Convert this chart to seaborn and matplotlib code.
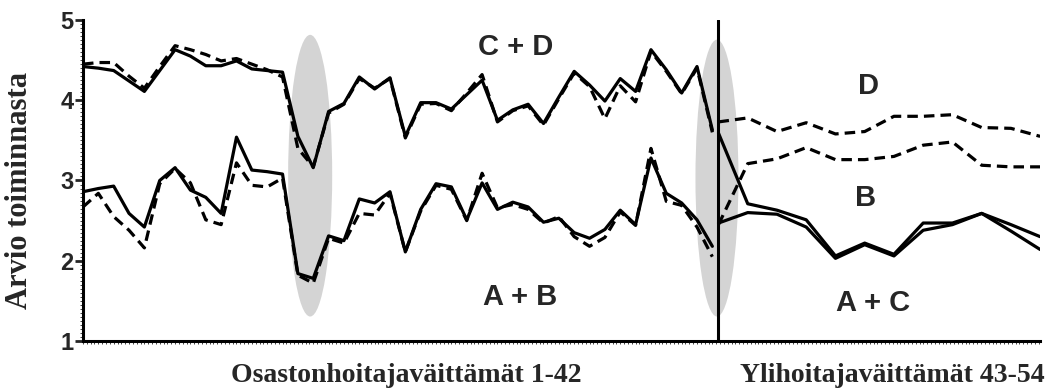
import numpy as np
import pandas as pd
import matplotlib
matplotlib.use("Agg")
import matplotlib.pyplot as plt
from matplotlib.patches import Ellipse
from matplotlib.ticker import MultipleLocator, NullLocator
import seaborn as sns

# ---- data: statements 1-42 (ward nurse managers) ----
items_left = list(range(1, 43))
A_left = [2.86, 2.90, 2.93, 2.59, 2.42, 3.00, 3.16, 2.88, 2.79, 2.59,
          3.54, 3.13, 3.11, 3.08, 1.84, 1.78, 2.31, 2.25, 2.77, 2.72,
          2.86, 2.11, 2.64, 2.96, 2.92, 2.51, 2.97, 2.64, 2.73, 2.67,
          2.48, 2.53, 2.35, 2.28, 2.39, 2.63, 2.45, 3.28, 2.84, 2.72,
          2.51, 2.18]
B_left = [2.67, 2.84, 2.55, 2.38, 2.16, 2.96, 3.15, 2.97, 2.51, 2.45,
          3.22, 2.94, 2.92, 3.03, 1.82, 1.72, 2.28, 2.22, 2.59, 2.57,
          2.84, 2.11, 2.62, 2.94, 2.89, 2.50, 3.09, 2.66, 2.70, 2.64,
          2.47, 2.55, 2.30, 2.18, 2.29, 2.61, 2.44, 3.40, 2.74, 2.69,
          2.42, 2.05]
C_left = [4.42, 4.40, 4.37, 4.24, 4.11, 4.37, 4.63, 4.55, 4.43, 4.43,
          4.49, 4.39, 4.37, 4.35, 3.55, 3.16, 3.86, 3.96, 4.29, 4.14,
          4.28, 3.55, 3.97, 3.97, 3.89, 4.07, 4.25, 3.75, 3.88, 3.95,
          3.71, 4.04, 4.36, 4.19, 3.99, 4.27, 4.11, 4.63, 4.38, 4.09,
          4.42, 3.63]
D_left = [4.45, 4.47, 4.47, 4.30, 4.15, 4.42, 4.68, 4.63, 4.57, 4.49,
          4.52, 4.45, 4.38, 4.29, 3.40, 3.17, 3.84, 3.95, 4.27, 4.15,
          4.27, 3.53, 3.95, 3.96, 3.87, 4.09, 4.32, 3.73, 3.87, 3.93,
          3.69, 4.02, 4.34, 4.17, 3.77, 4.18, 3.98, 4.61, 4.36, 4.08,
          4.40, 3.60]

# ---- data: statements 43-54 (chief nurses) ----
items_right = list(range(43, 55))
A_right = [2.47, 2.60, 2.58, 2.42, 2.03, 2.20, 2.06, 2.38, 2.45, 2.59, 2.37, 2.14]
B_right = [2.45, 3.21, 3.27, 3.41, 3.26, 3.26, 3.30, 3.44, 3.48, 3.19, 3.17, 3.17]
C_right = [3.59, 2.71, 2.63, 2.51, 2.06, 2.22, 2.08, 2.47, 2.47, 2.59, 2.45, 2.30]
D_right = [3.73, 3.78, 3.61, 3.72, 3.58, 3.61, 3.80, 3.80, 3.82, 3.66, 3.65, 3.55]

y_ticks = [1, 2, 3, 4, 5]
xlabel_left = "Osastonhoitajaväittämät 1-42"
xlabel_right = "Ylihoitajaväittämät 43-54"
ylabel = "Arvio toiminnasta"

# layout: the right block is drawn with wider spacing
RIGHT_START = 42.4
RIGHT_STEP = 1.905

def pos_right(items):
    return [RIGHT_START + (i - items_right[0]) * RIGHT_STEP for i in items]

sns.set_style("white")
plt.rcParams["font.family"] = ["Liberation Sans", "DejaVu Sans"]

fig = plt.figure(figsize=(10.57, 3.89), dpi=100)
ax = fig.add_axes([0.0785, 0.1234, 0.9055, 0.8252])

frames = []
for name, vals in (("A", A_left), ("B", B_left), ("C", C_left), ("D", D_left)):
    frames.append(pd.DataFrame({"x": items_left, "y": vals, "s": name, "part": "L"}))
for name, vals in (("A", A_right), ("B", B_right), ("C", C_right), ("D", D_right)):
    frames.append(pd.DataFrame({"x": pos_right(items_right), "y": vals, "s": name, "part": "R"}))
df = pd.concat(frames, ignore_index=True)

lw = 2.3
for (part, s), sub in df.groupby(["part", "s"]):
    ls = "-" if s in ("A", "C") else (0, (3.3, 1.9))
    sns.lineplot(data=sub, x="x", y="y", ax=ax, color="black", linewidth=lw,
                 linestyle=ls, estimator=None, sort=False, zorder=3)

# gray highlight ellipses
ax.add_patch(Ellipse((15.8, 3.06), 2.87, 3.51, facecolor="#d4d4d4", edgecolor="none", zorder=1))
ax.add_patch(Ellipse((42.3, 3.03), 2.8, 3.45, facecolor="#d4d4d4", edgecolor="none", zorder=1))

# divider
ax.axvline(RIGHT_START, color="black", linewidth=2.2, zorder=4)

ax.set_xlim(1, 63.35)
ax.set_ylim(1, 5)
ax.set_yticks(y_ticks)
ax.set_yticklabels([str(t) for t in y_ticks], fontsize=17, fontweight="bold")
ax.xaxis.set_major_locator(NullLocator())
ax.xaxis.set_minor_locator(MultipleLocator(0.25))
ax.yaxis.set_minor_locator(MultipleLocator(0.05))
ax.tick_params(axis="y", which="major", length=6, width=2, pad=1, left=True)
ax.tick_params(axis="both", which="minor", length=2, width=0.6, direction="out",
               left=True, bottom=True)
ax.set_xlabel("")
ax.set_ylabel("")
for side in ("top", "right"):
    ax.spines[side].set_visible(False)
for side in ("left", "bottom"):
    ax.spines[side].set_linewidth(2.2)
    ax.spines[side].set_color("black")

# annotations
txt_kw = dict(fontsize=21, fontweight="bold", ha="center", va="center",
              family=["Liberation Sans", "DejaVu Sans"], zorder=5)
ax.text(29.2, 4.66, "C + D", **txt_kw)
ax.text(29.5, 1.55, "A + B", **txt_kw)
ax.text(52.2, 4.18, "D", **txt_kw)
ax.text(52.0, 2.78, "B", **txt_kw)
ax.text(52.5, 1.47, "A + C", **txt_kw)

serif = ["Liberation Serif", "DejaVu Serif"]
fig.text(406 / 1057, 1 - 375 / 389, xlabel_left, ha="center", va="center",
         fontsize=20, fontweight="bold", family=serif)
fig.text(892 / 1057, 1 - 375 / 389, xlabel_right, ha="center", va="center",
         fontsize=20, fontweight="bold", family=serif)
fig.text(20 / 1057, 1 - 190 / 389, ylabel, ha="center", va="center", rotation=90,
         fontsize=22, fontweight="bold", family=serif)

fig.savefig("out.png", dpi=100)
